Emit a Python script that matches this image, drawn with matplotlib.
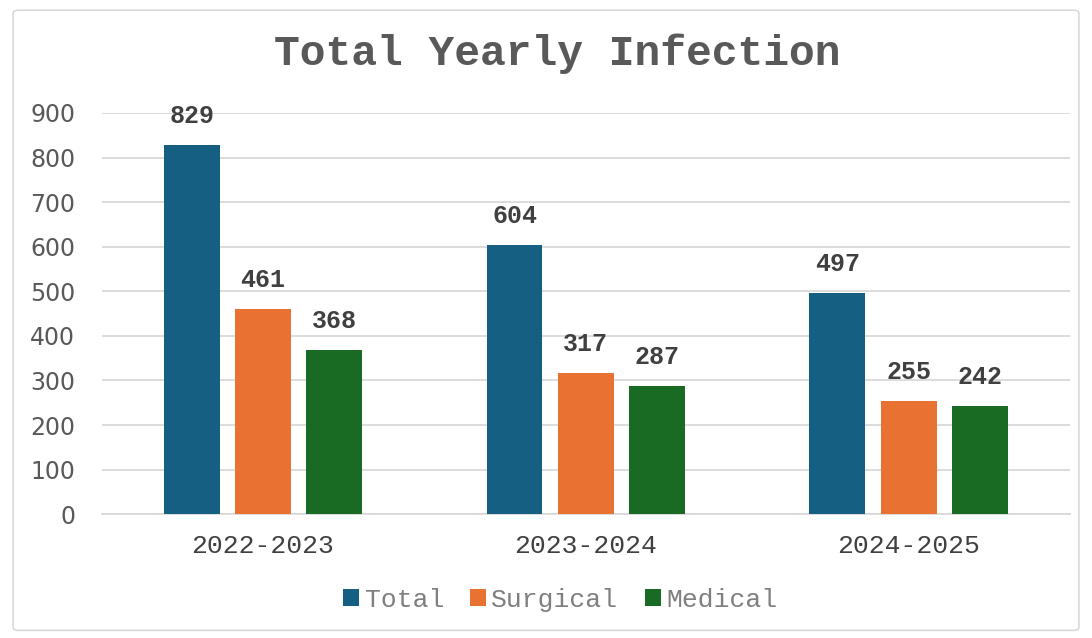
import matplotlib.pyplot as plt
import numpy as np
from matplotlib.patches import FancyBboxPatch

years = ["2022-2023", "2023-2024", "2024-2025"]
series = ["Total", "Surgical", "Medical"]
total = [829, 604, 497]
surgical = [461, 317, 255]
medical = [368, 287, 242]
colors = ["#156082", "#E97132", "#196B24"]

mono = "Liberation Mono"

fig = plt.figure(figsize=(10.92, 6.38), dpi=100)
ax = fig.add_axes([0.093, 0.194, 0.887, 0.629])

# light frame around the chart
fig.patches.append(FancyBboxPatch((0.012, 0.012), 0.976, 0.972,
                                  boxstyle="round,pad=0,rounding_size=0.005",
                                  transform=fig.transFigure, fill=False,
                                  edgecolor="#D9D9D9", linewidth=1.2))

x = np.arange(len(years))
width = 0.173
step = 0.221
for i, (name, vals) in enumerate(zip(series, [total, surgical, medical])):
    pos = x + (i - 1) * step
    bars = ax.bar(pos, vals, width, color=colors[i], label=name, zorder=3)
    for b, v in zip(bars, vals):
        ax.annotate(str(v), (b.get_x() + b.get_width() / 2, v),
                    xytext=(0, 29), textcoords="offset pixels",
                    ha="center", va="center", fontsize=18,
                    family=mono, fontweight="bold", color="#404040")

ax.set_xlim(-0.5, 2.5)
ax.set_ylim(0, 900)
ax.set_yticks(range(0, 901, 100))
ax.yaxis.grid(True, color="#D9D9D9", linewidth=1.3, zorder=0)
ax.set_axisbelow(True)
for s in ["top", "right", "left"]:
    ax.spines[s].set_visible(False)
ax.spines["bottom"].set_color("#D9D9D9")
ax.spines["bottom"].set_linewidth(1.3)

ax.set_xticks(x)
ax.set_xticklabels(years, family=mono, fontsize=19, color="#404040")
ax.tick_params(axis="x", length=0, pad=14)
ax.tick_params(axis="y", length=0, pad=19, labelsize=17, labelcolor="#595959")

fig.text(0.51, 0.916, "Total Yearly Infection", ha="center", va="center",
         family=mono, fontsize=31, fontweight="bold", color="#595959")

leg = fig.legend(loc="center", bbox_to_anchor=(0.513, 0.06), ncol=3,
                 frameon=False, prop={"family": mono, "size": 19},
                 handlelength=0.6, handleheight=0.6, handletextpad=0.2,
                 columnspacing=1.0, labelcolor="#7F7F7F")

fig.savefig("out.png", dpi=100)
